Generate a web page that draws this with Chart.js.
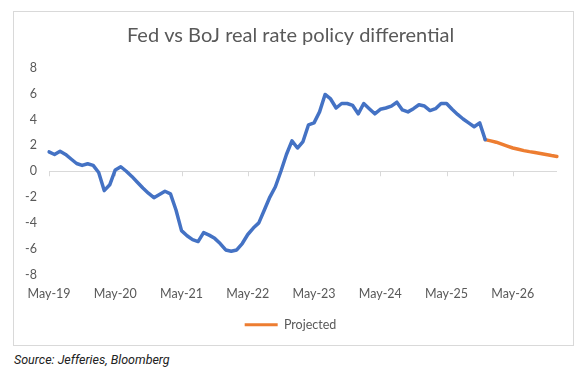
<!DOCTYPE html>
<html>
<head>
<meta charset="utf-8">
<script src="https://cdn.jsdelivr.net/npm/chart.js@4/dist/chart.umd.min.js"></script>
<style>
  html, body { margin:0; padding:0; background:#fff; }
  #box { position:absolute; left:13px; top:11px; width:561px; height:335px; border:1.5px solid #d9d9d9; box-sizing:border-box; }
  #wrap { position:absolute; left:14px; top:12px; width:559px; height:332px; }
  #fonte { position:absolute; left:14px; top:352px; font:italic 12.5px Roboto, sans-serif; color:#222; }
</style>
</head>
<body>
<div id="box"></div>
<div id="wrap"><canvas id="grafico"></canvas></div>
<div id="fonte">Source: Jefferies, Bloomberg</div>
<script>
// Dados
const mesesAbrev = ["Jan","Feb","Mar","Apr","May","Jun","Jul","Aug","Sep","Oct","Nov","Dec"];
const tickLabels = ["May-19","May-20","May-21","May-22","May-23","May-24","May-25","May-26"];

// diferencial real Fed - BoJ, mensal de May-19 ate Dec-25
const historico = [
  1.5, 1.3, 1.55, 1.3, 0.95, 0.6, 0.45, 0.58, 0.45, -0.1,
  -1.5, -1.05, 0.1, 0.35, 0.0, -0.4, -0.85, -1.3, -1.7, -2.05,
  -1.8, -1.55, -1.75, -3.0, -4.6, -5.0, -5.3, -5.45, -4.75, -4.95,
  -5.2, -5.6, -6.1, -6.2, -6.1, -5.6, -4.9, -4.4, -4.0, -3.0,
  -2.0, -1.2, 0.0, 1.3, 2.35, 1.8, 2.3, 3.6, 3.75, 4.6,
  5.95, 5.6, 4.9, 5.25, 5.25, 5.1, 4.45, 5.25, 4.85, 4.45,
  4.8, 4.9, 5.05, 5.35, 4.75, 4.6, 4.85, 5.15, 5.05, 4.7,
  4.85, 5.25, 5.25, 4.8, 4.4, 4.05, 3.75, 3.45, 3.75, 2.45
];
// projecao Dec-25 ate Jan-27
const projetado = [2.45, 2.35, 2.25, 2.1, 1.95, 1.8, 1.7, 1.6, 1.52, 1.45, 1.38, 1.3, 1.22, 1.15];

// categorias mensais
const meses = [];
const totalMeses = historico.length - 1 + projetado.length;
for(let i=0;i<totalMeses;i++){
  const m = (4 + i) % 12, a = 19 + Math.floor((4 + i)/12);
  meses.push(mesesAbrev[m] + "-" + a);
}
const serieHist = meses.map((_,i)=> i < historico.length ? historico[i] : null);
const inicioProj = historico.length - 1;
const serieProj = meses.map((_,i)=> i >= inicioProj ? projetado[i - inicioProj] : null);

// tracinhos no eixo zero
const marcasZero = {
  id:"marcasZero",
  beforeDatasetsDraw(chart){
    const {ctx, scales:{x,y}} = chart;
    const y0 = y.getPixelForValue(0);
    ctx.save();
    ctx.strokeStyle = "#d9d9d9"; ctx.lineWidth = 1;
    meses.forEach((m,i)=>{
      if(!tickLabels.includes(m)) return;
      const px = Math.round(x.getPixelForValue(i)) + 0.5;
      ctx.beginPath(); ctx.moveTo(px, y0); ctx.lineTo(px, y0 + 5); ctx.stroke();
    });
    ctx.restore();
  }
};

const cinza = "#595959";
new Chart(document.getElementById("grafico"), {
  type:"line",
  data:{
    labels: meses,
    datasets:[
      { label:"Fed vs BoJ", data: serieHist, borderColor:"#4472C4", backgroundColor:"#4472C4", borderWidth:3.5, pointRadius:0, borderJoinStyle:"round", borderCapStyle:"round" },
      { label:"Projected", data: serieProj, borderColor:"#ED7D31", backgroundColor:"#ED7D31", borderWidth:3.5, pointRadius:0, borderJoinStyle:"round", borderCapStyle:"round" }
    ]
  },
  options:{
    responsive:true, maintainAspectRatio:false, animation:false,
    layout:{ padding:{ left:10, right:16, top:0, bottom:3 } },
    plugins:{
      title:{ display:true, text:"Fed vs BoJ real rate policy differential", color:cinza,
        font:{ family:"Lato", size:20, weight:"normal" }, padding:{ top:12, bottom:20 } },
      legend:{ position:"bottom",
        labels:{ color:cinza, font:{ family:"Lato", size:12.5 }, boxWidth:33, boxHeight:3, padding:10,
          generateLabels: c => Chart.defaults.plugins.legend.labels.generateLabels(c)
            .filter(l => l.text === "Projected")
            .map(l => ({...l, lineWidth:0, fillStyle:"#ED7D31", strokeStyle:"#ED7D31"})) } },
      tooltip:{ enabled:false }
    },
    scales:{
      x:{ grid:{ display:false, drawTicks:false }, border:{ display:false },
        afterFit: s => { s.height = 34; },
        ticks:{ autoSkip:false, maxRotation:0, padding:12, color:cinza, font:{ family:"Lato", size:12.5 },
          callback: (v,i) => tickLabels.includes(meses[i]) ? meses[i] : null } },
      y:{ min:-8, max:8, border:{ display:false },
        afterFit: s => { s.width = 25; },
        grid:{ drawTicks:false, lineWidth:1, color: c => c.tick.value === 0 ? "#d9d9d9" : "rgba(0,0,0,0)" },
        ticks:{ stepSize:2, padding:12, color:cinza, font:{ family:"Lato", size:12.5 } } }
    }
  },
  plugins:[marcasZero]
});
</script>
</body>
</html>
